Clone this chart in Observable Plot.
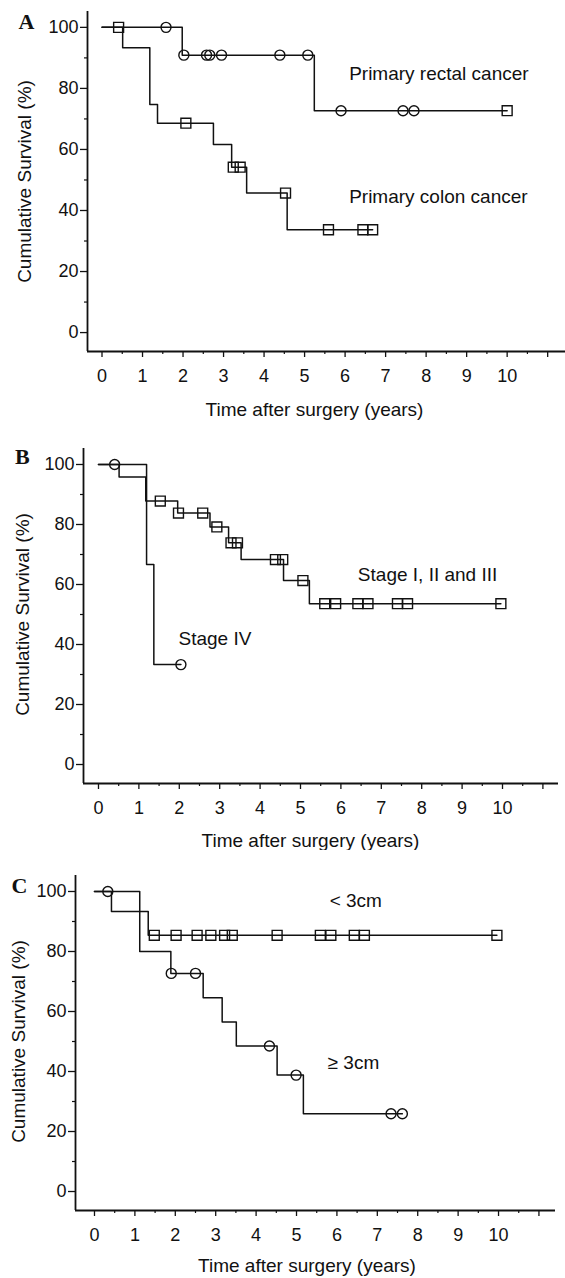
<!DOCTYPE html>
<html>
<head>
<meta charset="utf-8">
<script src="https://cdn.jsdelivr.net/npm/d3@7"></script>
<script src="https://cdn.jsdelivr.net/npm/@observablehq/plot@0.6"></script>
<style>
  html, body { margin: 0; padding: 0; background: #fff; }
  #wrap { position: relative; width: 565px; height: 1278px; overflow: hidden; background: #fff; }
  .panel { position: absolute; left: 0; }
</style>
</head>
<body>
<div id="wrap"></div>
<script>
// ---------- Data ----------
// Axis ticks
const xMajorTicks = [0, 1, 2, 3, 4, 5, 6, 7, 8, 9, 10, 11];
const xMinorTicks = [0.5, 1.5, 2.5, 3.5, 4.5, 5.5, 6.5, 7.5, 8.5, 9.5, 10.5];
const yMajorTicks = [0, 20, 40, 60, 80, 100];
const yMinorTicks = [10, 30, 50, 70, 90];
const xTitle = "Time after surgery (years)";
const yTitle = "Cumulative Survival (%)";

// Panel A
const aRectalTimes = [0, 1.98, 5.24, 10.0];
const aRectalSurv = [100, 90.9, 72.7, 72.7];
const aRectalCensorCircles = [1.58, 2.02, 2.58, 2.66, 2.95, 4.39, 5.08, 5.90, 7.43, 7.70];
const aRectalCensorSquares = [10.0];
const aColonTimes = [0, 0.51, 1.18, 1.37, 2.75, 3.20, 3.57, 4.57, 6.68];
const aColonSurv = [100, 93.3, 74.7, 68.6, 61.6, 54.2, 45.7, 33.7, 33.7];
const aColonCensorSquares = [0.41, 2.07, 3.24, 3.41, 4.53, 5.59, 6.44, 6.68];
const aLabels = ["Primary rectal cancer", "Primary colon cancer"];
const aLabelX = [6.1, 6.1];
const aLabelY = [84.8, 44.4];

// Panel B
const bEarlyTimes = [0, 0.51, 1.17, 1.96, 2.76, 3.22, 3.53, 4.58, 5.22, 9.96];
const bEarlySurv = [100, 95.8, 87.8, 83.8, 79.2, 73.9, 68.3, 61.3, 53.6, 53.6];
const bEarlyCensorSquares = [1.53, 1.98, 2.58, 2.93, 3.28, 3.44, 4.38, 4.56, 5.06, 5.60, 5.87, 6.42, 6.67, 7.40, 7.65, 9.96];
const bLateTimes = [0, 1.19, 1.37, 2.04];
const bLateSurv = [100, 66.7, 33.3, 33.3];
const bLateCensorCircles = [0.40, 2.04];
const bLabels = ["Stage I, II and III", "Stage IV"];
const bLabelX = [6.42, 1.98];
const bLabelY = [63.3, 42.0];

// Panel C
const cSmallTimes = [0, 0.42, 1.33, 9.96];
const cSmallSurv = [100, 93.3, 85.4, 85.4];
const cSmallCensorSquares = [1.48, 2.02, 2.54, 2.88, 3.22, 3.41, 4.52, 5.59, 5.85, 6.43, 6.68, 9.96];
const cLargeTimes = [0, 1.12, 1.89, 2.69, 3.16, 3.51, 4.52, 5.17, 7.62];
const cLargeSurv = [100, 80.0, 72.7, 64.6, 56.5, 48.5, 38.8, 25.9, 25.9];
const cLargeCensorCircles = [0.33, 1.90, 2.50, 4.33, 4.99, 7.34, 7.62];
const cLabels = ["< 3cm", "\u2265 3cm"];
const cLabelX = [5.82, 5.77];
const cLabelY = [96.7, 42.7];

// ---------- Helpers ----------
const INK = "#111";
const SANS = "'Liberation Sans', Arial, Helvetica, sans-serif";
const SERIF = "'Liberation Serif', 'Times New Roman', serif";
const LABEL_SIZE = 19;

function steps(times, surv) {
  return times.map((t, i) => ({t, s: surv[i]}));
}
function survAt(times, surv, t) {
  let s = surv[0];
  for (let i = 0; i < times.length; i++) if (times[i] <= t + 1e-9) s = surv[i];
  return s;
}
function marksOf(censor, times, surv) {
  return censor.map(t => ({t, s: survAt(times, surv, t)}));
}
function labelsOf(texts, xs, ys) {
  return texts.map((text, i) => ({text, x: xs[i], y: ys[i]}));
}

function panel(cfg) {
  const {top, height, mL, mR, mT, mB, xDomain, yDomain, curves, labels, letter, letterD, yTitleD, xTitleD} = cfg;
  const marks = [
    // axis lines (at the domain edges)
    Plot.ruleX([xDomain[0]], {y1: yDomain[0], y2: yDomain[1], stroke: INK, strokeWidth: 1.8}),
    Plot.ruleY([yDomain[0]], {x1: xDomain[0], x2: xDomain[1], stroke: INK, strokeWidth: 1.8}),
    Plot.axisY({ticks: yMajorTicks, tickSize: 7, tickPadding: 2, stroke: INK, fill: INK, strokeWidth: 1.3, label: null, tickFormat: d => String(d), fontSize: 18}),
    Plot.axisY({ticks: yMinorTicks, tickSize: 3, stroke: INK, fill: "none", strokeWidth: 1.2, label: null}),
    Plot.axisX({ticks: xMajorTicks, tickSize: 6, tickPadding: 12, stroke: INK, fill: INK, strokeWidth: 1.3, label: null, tickFormat: d => (d <= 10 ? String(d) : ""), fontSize: 18}),
    Plot.axisX({ticks: xMinorTicks, tickSize: 3, stroke: INK, fill: "none", strokeWidth: 1.2, label: null})
  ];
  for (const c of curves) {
    marks.push(Plot.line(steps(c.times, c.surv), {x: "t", y: "s", curve: "step-after", stroke: INK, strokeWidth: 1.5}));
    if (c.circles) marks.push(Plot.dot(marksOf(c.circles, c.times, c.surv), {x: "t", y: "s", r: 5, symbol: "circle", stroke: INK, fill: "none", strokeWidth: 1.4}));
    if (c.squares) marks.push(Plot.dot(marksOf(c.squares, c.times, c.surv), {x: "t", y: "s", r: 5.6, symbol: "square", stroke: INK, fill: "none", strokeWidth: 1.4}));
  }
  marks.push(Plot.text(labels, {x: "x", y: "y", text: "text", textAnchor: "start", lineAnchor: "middle", fontSize: LABEL_SIZE, fill: INK}));
  marks.push(Plot.text([letter], {text: d => d, frameAnchor: "top-left", dx: letterD[0], dy: letterD[1], textAnchor: "start", lineAnchor: "bottom", fontFamily: SERIF, fontWeight: "bold", fontSize: 22, fill: INK}));
  marks.push(Plot.text([yTitle], {text: d => d, frameAnchor: "left", rotate: -90, dx: yTitleD[0], dy: yTitleD[1], textAnchor: "middle", lineAnchor: "middle", fontSize: LABEL_SIZE, fill: INK}));
  marks.push(Plot.text([xTitle], {text: d => d, frameAnchor: "bottom", dx: xTitleD[0], dy: xTitleD[1], textAnchor: "middle", lineAnchor: "bottom", fontSize: LABEL_SIZE, fill: INK}));

  const svg = Plot.plot({
    width: 565,
    height,
    marginLeft: mL, marginRight: mR, marginTop: mT, marginBottom: mB,
    x: {domain: xDomain, label: null},
    y: {domain: yDomain, label: null},
    style: {fontFamily: SANS, fontSize: "18px", color: INK, background: "#fff", overflow: "visible"},
    marks
  });
  const div = document.createElement("div");
  div.className = "panel";
  div.style.top = top + "px";
  div.appendChild(svg);
  document.getElementById("wrap").appendChild(div);
}

// Panel A
panel({
  top: 0, height: 430, mL: 87, mR: 0, mT: 11, mB: 79,
  xDomain: [-0.358, 11.44], yDomain: [-6.2, 105.2],
  curves: [
    {times: aRectalTimes, surv: aRectalSurv, circles: aRectalCensorCircles, squares: aRectalCensorSquares},
    {times: aColonTimes, surv: aColonSurv, squares: aColonCensorSquares}
  ],
  labels: labelsOf(aLabels, aLabelX, aLabelY),
  letter: "A", letterD: [-69, 17], yTitleD: [-63, 0], xTitleD: [-12, 64]
});

// Panel B
panel({
  top: 430, height: 420, mL: 83, mR: 7, mT: 18, mB: 67,
  xDomain: [-0.371, 11.386], yDomain: [-6.33, 105.33],
  curves: [
    {times: bEarlyTimes, surv: bEarlySurv, squares: bEarlyCensorSquares},
    {times: bLateTimes, surv: bLateSurv, circles: bLateCensorCircles}
  ],
  labels: labelsOf(bLabels, bLabelX, bLabelY),
  letter: "B", letterD: [-68.5, 15], yTitleD: [-60.5, -1.5], xTitleD: [-10.5, 63]
});

// Panel C
panel({
  top: 850, height: 428, mL: 75, mR: 10, mT: 25, mB: 68,
  xDomain: [-0.47, 11.41], yDomain: [-6.33, 105.33],
  curves: [
    {times: cSmallTimes, surv: cSmallSurv, squares: cSmallCensorSquares},
    {times: cLargeTimes, surv: cLargeSurv, circles: cLargeCensorCircles}
  ],
  labels: labelsOf(cLabels, cLabelX, cLabelY),
  letter: "C", letterD: [-64, 17], yTitleD: [-56.5, -1.5], xTitleD: [-8.5, 61]
});
</script>
</body>
</html>
